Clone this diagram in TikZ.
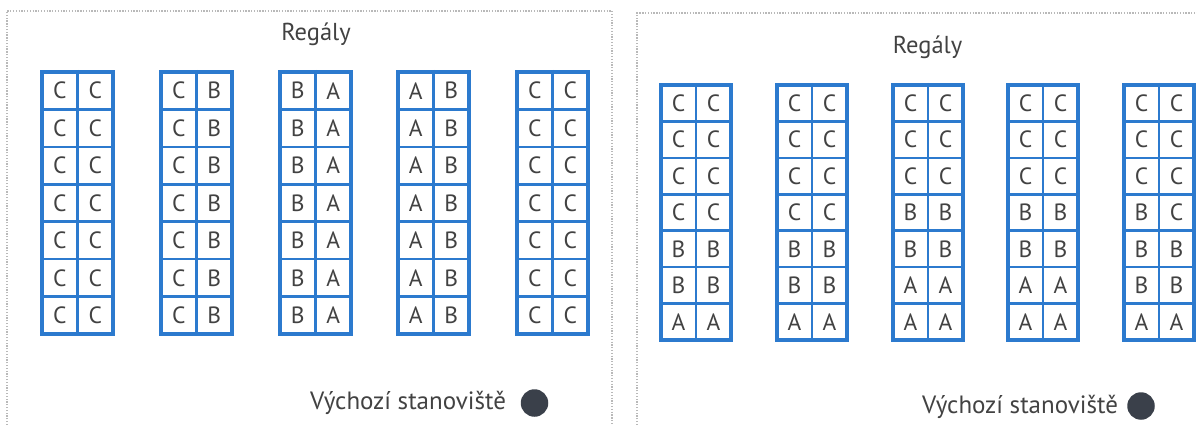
\documentclass[tikz,border=0pt]{standalone}
\usepackage{fontspec}
\setmainfont{PT Sans}
\definecolor{shelfblue}{RGB}{44,122,206}
\definecolor{txtgray}{RGB}{66,66,66}
\definecolor{dotgray}{RGB}{58,64,74}
\definecolor{framegray}{RGB}{185,185,185}
\tikzset{
  frameline/.style={draw=framegray, line width=1.1pt, dash pattern=on 1.3pt off 1.5pt},
  shelfbox/.style={draw=shelfblue, line width=4pt, inner sep=0pt, fill=white},
  shelfline/.style={draw=shelfblue, line width=2.6pt},
  cell/.style={inner sep=0pt, text=txtgray, font=\fontsize{23.5}{23.5}\selectfont},
  title/.style={inner sep=0pt, text=txtgray, font=\fontsize{24.5}{24.5}\selectfont, anchor=base},
  start/.style={inner sep=0pt, text=txtgray, font=\fontsize{25}{25}\selectfont, anchor=base west},
  startdot/.style={circle, fill=dotgray, inner sep=0pt, minimum size=27.5pt}
}
% #1 name, #2 left x, #3 top y, #4 bottom y, #5 outer width, #6 list a/b (7 rows)
\newcommand\rackdraw[6]{%
  \pgfmathsetmacro\rx{#2+2}%
  \pgfmathsetmacro\ry{#3+2}%
  \pgfmathsetmacro\rw{#5-4}%
  \pgfmathsetmacro\rh{#4-#3-4}%
  \pgfmathsetmacro\rowh{\rh/7}%
  \node[shelfbox, minimum width=\rw pt, minimum height=\rh pt] (#1) at ({\rx+\rw/2},{\ry+\rh/2}) {};
  \draw[shelfline] (#1.north) -- (#1.south);
  \foreach \k in {1,...,6}{
    \draw[shelfline] (\rx,{\ry+\k*\rowh}) -- ({\rx+\rw},{\ry+\k*\rowh});
  }
  \foreach \a/\b [count=\r from 0] in {#6}{
    \node[cell] (#1-\r-a) at ({\rx+\rw/4},{\ry+(\r+0.5)*\rowh}) {\a};
    \node[cell] (#1-\r-b) at ({\rx+3*\rw/4},{\ry+(\r+0.5)*\rowh}) {\b};
  }
}
\begin{document}
\begin{tikzpicture}[x=1pt,y=-1pt]
\useasboundingbox (0,0) rectangle (1197,425);
% frames
\draw[frameline] (7,425) -- (7,11) -- (612,11) -- (612,425);
\draw[frameline] (637,425) -- (637,13) -- (1197,13);
% left panel
\node[title] (titleL) at (316,41) {Regály};
\rackdraw{L1}{40}{70}{336}{75}{C/C,C/C,C/C,C/C,C/C,C/C,C/C}
\rackdraw{L2}{159}{70}{336}{75}{C/B,C/B,C/B,C/B,C/B,C/B,C/B}
\rackdraw{L3}{278}{70}{336}{75}{B/A,B/A,B/A,B/A,B/A,B/A,B/A}
\rackdraw{L4}{396}{70}{336}{75}{A/B,A/B,A/B,A/B,A/B,A/B,A/B}
\rackdraw{L5}{515}{70}{336}{75}{C/C,C/C,C/C,C/C,C/C,C/C,C/C}
\node[start] (startL) at (310,409) {Výchozí stanoviště};
\node[startdot] (dotL) at (534.5,403) {};
% right panel
\node[title] (titleR) at (927.5,54) {Regály};
\rackdraw{R1}{659}{83}{342}{74}{C/C,C/C,C/C,C/C,B/B,B/B,A/A}
\rackdraw{R2}{775}{83}{342}{74}{C/C,C/C,C/C,C/C,B/B,B/B,A/A}
\rackdraw{R3}{891}{83}{342}{74}{C/C,C/C,C/C,B/B,B/B,A/A,A/A}
\rackdraw{R4}{1006}{83}{342}{74}{C/C,C/C,C/C,B/B,B/B,A/A,A/A}
\rackdraw{R5}{1122}{83}{342}{74}{C/C,C/C,C/C,B/C,B/B,B/B,A/A}
\node[start] (startR) at (922,413) {Výchozí stanoviště};
\node[startdot] (dotR) at (1141,406) {};
\end{tikzpicture}
\end{document}
